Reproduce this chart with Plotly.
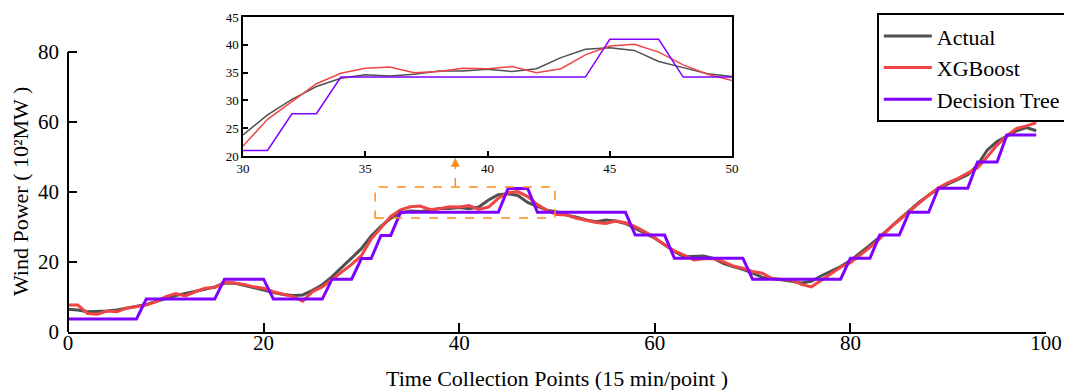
import plotly.graph_objects as go

x_points = list(range(100))

actual = [6.5, 6.3, 5.8, 5.8, 6.0, 6.3, 6.8, 7.2, 7.9, 8.7,
          9.6, 10.4, 11.0, 11.5, 12.2, 12.9, 13.9, 14.0, 13.4, 12.8,
          12.0, 11.3, 10.7, 10.4, 10.6, 11.9, 13.5, 15.8, 18.4, 21.0,
          23.8, 27.4, 30.2, 32.5, 34.0, 34.6, 34.4, 34.7, 35.3, 35.3,
          35.6, 35.2, 35.7, 37.7, 39.2, 39.5, 39.0, 37.0, 35.9, 34.8,
          34.3, 33.4, 32.8, 32.0, 31.5, 32.0, 31.7, 31.0, 29.6, 28.2,
          26.8, 24.9, 23.0, 21.5, 21.5, 21.7, 21.0, 19.6, 18.7, 17.9,
          16.8, 15.6, 15.3, 15.0, 14.5, 14.0, 14.5, 16.0, 17.4, 18.7,
          20.4, 22.5, 24.8, 27.2, 29.8, 32.2, 34.6, 37.0, 39.1, 41.0,
          42.3, 43.6, 44.9, 47.7, 52.0, 54.4, 56.0, 57.5, 58.4, 57.5]

xgboost = [7.7, 7.7, 5.3, 5.1, 6.0, 5.8, 6.8, 7.2, 7.7, 8.7,
           10.1, 11.0, 10.3, 11.5, 12.5, 12.7, 14.2, 14.0, 13.6, 12.9,
           12.5, 11.5, 10.8, 10.1, 8.8, 11.5, 12.9, 15.0, 17.2, 19.3,
           21.8, 26.6, 29.8, 33.0, 34.9, 35.8, 36.0, 35.0, 35.2, 35.8,
           35.7, 36.1, 35.0, 35.7, 38.2, 39.8, 40.1, 38.7, 36.4, 34.7,
           33.6, 33.4, 32.5, 31.8, 31.3, 31.0, 31.7, 31.2, 30.1, 28.6,
           26.9, 24.9, 23.2, 22.0, 20.6, 20.9, 21.0, 20.1, 18.9, 18.2,
           17.3, 16.8, 15.3, 15.0, 14.9, 13.6, 12.9, 14.7, 16.7, 18.5,
           19.8, 22.0, 24.2, 26.7, 29.6, 32.0, 34.4, 36.7, 39.1, 41.2,
           42.7, 43.9, 45.3, 46.9, 50.1, 53.4, 56.1, 58.2, 58.9, 59.8]

decision_tree = [3.7] * 8 + [9.4] * 8 + [15.1] * 5 + [9.4] * 6 + [15.1] * 3 + \
                [21.0] * 2 + [27.6] * 2 + [34.2] * 11 + [41.0] * 3 + [34.2] * 10 + \
                [27.7] * 4 + [21.1] * 8 + [15.1] * 10 + [21.1] * 3 + [27.7] * 3 + \
                [34.2] * 3 + [41.1] * 4 + [48.6] * 3 + [56.3] * 4

x_ticks = [0, 20, 40, 60, 80, 100]
y_ticks = [0, 20, 40, 60, 80]
inset_range = [30, 50]
inset_y_range = [20, 45]
zoom_box_x = [31.4, 49.8]
zoom_box_y = [32.6, 41.4]
arrow_x = 39.6
arrow_tip_y = 49.8

names = ["Actual", "XGBoost", "Decision Tree"]
colors = ["#505050", "#f04545", "#8000ff"]
series = [actual, xgboost, decision_tree]

FONT = "Liberation Serif"

fig = go.Figure()
for name, col, ys in zip(names, colors, series):
    fig.add_trace(go.Scatter(x=x_points, y=ys, mode="lines", name=name,
                             line=dict(color=col, width=3)))

lo, hi = inset_range
for name, col, ys in zip(names, colors, series):
    fig.add_trace(go.Scatter(x=x_points[lo:hi + 1], y=ys[lo:hi + 1], mode="lines",
                             name=name, showlegend=False,
                             line=dict(color=col, width=1.5),
                             xaxis="x2", yaxis="y2"))

# zoom box
fig.add_shape(type="rect", xref="x", yref="y",
              x0=zoom_box_x[0], x1=zoom_box_x[1], y0=zoom_box_y[0], y1=zoom_box_y[1],
              line=dict(color="#ff8c1a", width=1.5, dash="dash"))
fig.add_shape(type="line", xref="x", yref="y",
              x0=arrow_x, x1=arrow_x, y0=zoom_box_y[1], y1=arrow_tip_y - 1.5,
              line=dict(color="#ff8c1a", width=1.5, dash="dash"))
fig.add_annotation(x=arrow_x, y=arrow_tip_y, ax=arrow_x, ay=arrow_tip_y - 2.5,
                   xref="x", yref="y", axref="x", ayref="y", text="",
                   showarrow=True, arrowhead=2, arrowsize=1.2, arrowwidth=1.5,
                   arrowcolor="#ff8c1a")
# main y axis line (ends at top tick)
fig.add_shape(type="line", xref="paper", yref="y", x0=0, x1=0, y0=0, y1=y_ticks[-1],
              line=dict(color="black", width=2))
# y axis title, centred on the 0-80 span
fig.add_annotation(text="Wind Power ( 10²MW )", textangle=-90,
                   xref="paper", yref="y", x=-0.049, y=(y_ticks[0] + y_ticks[-1]) / 2,
                   xanchor="center", yanchor="middle", showarrow=False,
                   font=dict(family=FONT, size=22, color="black"))
# x axis title
fig.add_annotation(text="Time Collection Points (15 min/point )",
                   xref="paper", yref="paper", x=0.5, y=-0.143,
                   xanchor="center", yanchor="middle", showarrow=False,
                   font=dict(family=FONT, size=22, color="black"))

fig.update_layout(
    width=1064, height=382,
    margin=dict(l=60, r=26, t=2, b=58, autoexpand=False),
    paper_bgcolor="white", plot_bgcolor="white",
    font=dict(family=FONT, size=21, color="black"),
    showlegend=True,
    legend=dict(x=0.827, y=0.99, xanchor="left", yanchor="top",
                bordercolor="black", borderwidth=2, bgcolor="white",
                font=dict(family=FONT, size=22), tracegroupgap=0,
                itemwidth=48),
    xaxis=dict(range=[0, 100], tickvals=x_ticks, showline=True, linecolor="black",
               linewidth=2, ticks="inside", ticklen=9, tickwidth=2, tickcolor="black",
               showgrid=False, zeroline=False, automargin=False,
               tickfont=dict(family=FONT, size=21), ticklabelstandoff=-9),
    yaxis=dict(range=[0, 92], tickvals=y_ticks, showline=False,
               ticks="inside", ticklen=9, tickwidth=2, tickcolor="black",
               showgrid=False, zeroline=False, automargin=False,
               tickfont=dict(family=FONT, size=21), ticklabelstandoff=8),
    xaxis2=dict(domain=[0.179, 0.679], anchor="y2", range=inset_range, dtick=5,
                showline=True, mirror=True, linecolor="black", linewidth=1.5,
                ticks="inside", ticklen=5, tickwidth=1.5, tickcolor="black",
                showgrid=False, zeroline=False, automargin=False,
                tickfont=dict(family=FONT, size=13)),
    yaxis2=dict(domain=[0.5466, 0.978], anchor="x2", range=inset_y_range, dtick=5,
                showline=True, mirror=True, linecolor="black", linewidth=1.5,
                ticks="inside", ticklen=5, tickwidth=1.5, tickcolor="black",
                showgrid=False, zeroline=False, automargin=False,
                tickfont=dict(family=FONT, size=13)),
)

fig.write_html("out.html")
